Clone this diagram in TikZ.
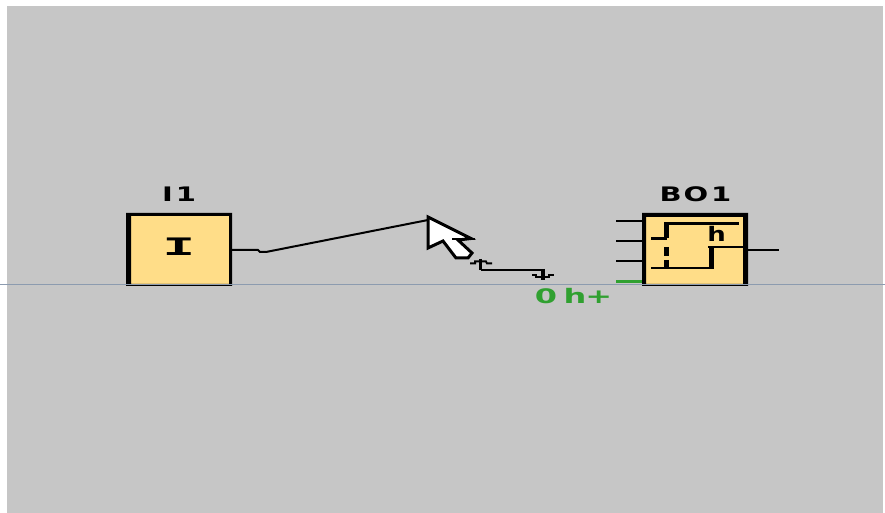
\documentclass[tikz,border=0pt]{standalone}
\usepackage{fontspec}
\setmainfont{DejaVu Sans}
\newfontfamily\monob{Liberation Mono}
\definecolor{panel}{RGB}{198,198,198}
\definecolor{blockfill}{RGB}{255,221,136}
\definecolor{termgreen}{RGB}{48,160,48}
\definecolor{rule}{RGB}{140,155,175}
\tikzset{
  x=0.75pt,y=-0.75pt,
  block/.style={fill=blockfill,draw=none,minimum width=79.5pt,minimum height=54.75pt,inner sep=0pt,outer sep=0pt},
  lab/.style={inner sep=0pt,font=\bfseries\fontsize{15}{15}\selectfont,xscale=1.45},
  thin wire/.style={draw=black,line width=1.5pt},
  green wire/.style={draw=termgreen,line width=2.25pt},
  sym/.style={draw=black,line width=2pt,line cap=butt},
}
\begin{document}
\begin{tikzpicture}
\useasboundingbox (0,0) rectangle (885,513);
\fill[white] (0,0) rectangle (885,513);
\fill[panel] (7,6) rectangle (883,513);

% I1 block
\node[block] (i1) at (179,249.5) {};
\fill[black] (126,213) rectangle (232,216) (126,284) rectangle (232,286)
  (126,213) rectangle (131,286) (229,213) rectangle (232,286);
\node[lab] (i1lab) at (179,194.5) {I\hspace{1.5pt}1};
\node[inner sep=0pt,font=\monob\bfseries\fontsize{20}{20}\selectfont,xscale=2.0] (i1sym) at (179,247) {I};

% BO1 block
\node[block] (bo1) at (695,249.5) {};
\fill[black] (642,213) rectangle (748,217) (642,284) rectangle (748,286)
  (642,213) rectangle (646,286) (743,213) rectangle (748,286);
\node[lab] (bo1lab) at (695.5,194.5) {B\hspace{1pt}O\hspace{1.5pt}1};

% timing symbol
\draw[sym] (651,238.5) -- (666.5,238.5);
\draw[sym,line width=2.25pt] (664,223.5) -- (739,223.5);
\draw[sym,line width=3.75pt] (666.5,238.5) -- (666.5,222.5);
\draw[sym,line width=3.75pt] (666.5,247) -- (666.5,256) (666.5,260) -- (666.5,268);
\draw[sym,line width=1.5pt] (651,268) -- (713,268);
\draw[sym,line width=1.5pt] (708,247.5) -- (743,247.5);
\draw[sym,line width=3.75pt] (711,269) -- (711,247);
\node[inner sep=0pt,font=\bfseries\fontsize{15}{15}\selectfont,xscale=1.3] (hsym) at (716.5,233.5) {h};

% BO1 terminals
\coordinate (t1) at (616,221);
\coordinate (t2) at (616,241);
\coordinate (t3) at (616,261);
\coordinate (t4) at (616,281.5);
\coordinate (q) at (779,250);
\draw[thin wire] (t1) -- (t1 -| bo1.west);
\draw[thin wire] (t2) -- (t2 -| bo1.west);
\draw[thin wire] (t3) -- (t3 -| bo1.west);
\draw[green wire] (t4) -- (t4 -| bo1.west);
\draw[thin wire] (q -| bo1.east) -- (q);

% dragged wire from I1 to cursor
\coordinate (tip) at (428,220);
\draw[thin wire] (i1.east |- 0,250) -- (258,250) -- (260,252) -- (266,252) -- (tip);

% cursor
\draw[black,line width=2.25pt,fill=white,line join=miter]
  (428,217) -- (471,238.5) -- (458,240) -- (472,253) -- (468,258) -- (456,258)
  -- (443,241) -- (428,248) -- cycle;
\draw[thin wire] (452,239) -- (475,239);
\draw[thin wire] (428,216) -- (428,248);

% wire stub between the cursor and the terminal
\coordinate (up) at (480.5,259);
\coordinate (down) at (543,280);
\draw[thin wire,line width=2.75pt] (up) -- (480.5,270);
\draw[thin wire] (480.5,270) -- (543,270);
\draw[thin wire,line width=2.75pt] (543,269) -- (down);
\draw[thin wire] (470,263.5) -- (475,263.5) -- (475,261.5) -- (486,261.5) -- (487,263.5) -- (492,263.5);
\draw[thin wire] (532,275) -- (536,275) -- (536,277) -- (549,277) -- (549,275) -- (554,275);

\node[inner sep=0pt,text=termgreen,font=\bfseries\fontsize{15}{15}\selectfont,xscale=1.6] (par) at (573.5,296) {0\hspace{3pt}h\hspace{-0.5pt}+};

% horizontal guide
\draw[rule,line width=0.75pt] (0,284.5) -- (885,284.5);
\end{tikzpicture}
\end{document}
